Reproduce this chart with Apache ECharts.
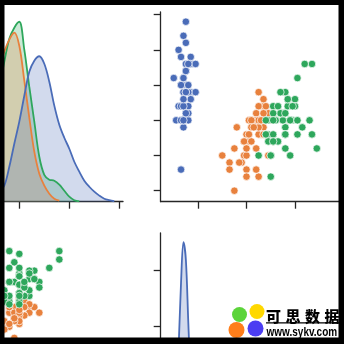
<!DOCTYPE html>
<html><head><meta charset="utf-8">
<script src="https://cdn.jsdelivr.net/npm/echarts@6/dist/echarts.min.js"></script>
<style>html,body{margin:0;padding:0;background:#fff}#c{width:344px;height:344px}</style>
</head><body><div id="c"></div>
<script>
// ---- Iris data (sepal width, petal length) per species ----
var setosaSW = [3.5,3.0,3.2,3.1,3.6,3.9,3.4,3.4,2.9,3.1,3.7,3.4,3.0,3.0,4.0,4.4,3.9,3.5,3.8,3.8,3.4,3.7,3.6,3.3,3.4,3.0,3.4,3.5,3.4,3.2,3.1,3.4,4.1,4.2,3.1,3.2,3.5,3.6,3.0,3.4,3.5,2.3,3.2,3.5,3.8,3.0,3.8,3.2,3.7,3.3];
var setosaPL = [1.4,1.4,1.3,1.5,1.4,1.7,1.4,1.5,1.4,1.5,1.5,1.6,1.4,1.1,1.2,1.5,1.3,1.4,1.7,1.5,1.7,1.5,1.0,1.7,1.9,1.6,1.6,1.5,1.4,1.6,1.6,1.5,1.5,1.4,1.5,1.2,1.3,1.4,1.3,1.5,1.3,1.3,1.3,1.6,1.9,1.4,1.6,1.4,1.5,1.4];
var versicolorSW = [3.2,3.2,3.1,2.3,2.8,2.8,3.3,2.4,2.9,2.7,2.0,3.0,2.2,2.9,2.9,3.1,3.0,2.7,2.2,2.5,3.2,2.8,2.5,2.8,2.9,3.0,2.8,3.0,2.9,2.6,2.4,2.4,2.7,2.7,3.0,3.4,3.1,2.3,3.0,2.5,2.6,3.0,2.6,2.3,2.7,3.0,2.9,2.9,2.5,2.8];
var versicolorPL = [4.7,4.5,4.9,4.0,4.6,4.5,4.7,3.3,4.6,3.9,3.5,4.2,4.0,4.7,3.6,4.4,4.5,4.1,4.5,3.9,4.8,4.0,4.9,4.7,4.3,4.4,4.8,5.0,4.5,3.5,3.8,3.7,3.9,5.1,4.5,4.5,4.7,4.4,4.1,4.0,4.4,4.6,4.0,3.3,4.2,4.2,4.2,4.3,3.0,4.1];
var virginicaSW = [3.3,2.7,3.0,2.9,3.0,3.0,2.5,2.9,2.5,3.6,3.2,2.7,3.0,2.5,2.8,3.2,3.0,3.8,2.6,2.2,3.2,2.8,2.8,2.7,3.3,3.2,2.8,3.0,2.8,3.0,2.8,3.8,2.8,2.8,2.6,3.0,3.4,3.1,3.0,3.1,3.1,3.1,2.7,3.2,3.3,3.0,2.5,3.0,3.4,3.0];
var virginicaPL = [6.0,5.1,5.9,5.6,5.8,6.6,4.5,6.3,5.8,6.1,5.1,5.3,5.5,5.0,5.1,5.3,5.5,6.7,6.9,5.0,5.7,4.9,6.7,4.9,5.7,6.0,4.8,4.9,5.6,5.8,6.1,6.4,5.6,5.1,5.6,6.1,5.6,5.5,4.8,5.4,5.6,5.1,5.1,5.9,5.7,5.2,5.0,5.2,5.4,5.1];

// ---- KDE curves (sepal width diagonal) ----
var kdeSetosaX = [1.9,2.0,2.1,2.2,2.3,2.4,2.5,2.6,2.7,2.8,2.9,3.0,3.1,3.2,3.3,3.4,3.5,3.6,3.7,3.8,3.9,4.0,4.1,4.2,4.3,4.4,4.5,4.6,4.7,4.8,4.9];
var kdeSetosaY = [0.001,0.003,0.010,0.020,0.027,0.034,0.041,0.068,0.108,0.236,0.392,0.541,0.716,0.878,0.953,0.983,0.932,0.811,0.649,0.520,0.432,0.358,0.270,0.203,0.142,0.101,0.068,0.041,0.020,0.010,0.003];
var kdeVersicolorX = [1.7,1.8,1.9,2.0,2.1,2.2,2.3,2.4,2.5,2.6,2.7,2.8,2.9,3.0,3.1,3.2,3.3,3.4,3.5,3.6,3.7,3.8];
var kdeVersicolorY = [0.007,0.020,0.054,0.122,0.203,0.338,0.473,0.608,0.777,0.912,1.014,1.095,1.142,1.054,0.818,0.568,0.338,0.189,0.108,0.054,0.020,0.007];
var kdeVirginicaX = [1.8,1.9,2.0,2.1,2.2,2.3,2.4,2.5,2.6,2.7,2.8,2.9,3.0,3.1,3.2,3.3,3.4,3.5,3.6,3.7,3.8,3.9,4.0,4.1,4.2];
var kdeVirginicaY = [0.003,0.014,0.034,0.081,0.169,0.270,0.419,0.608,0.777,0.946,1.101,1.176,1.216,1.027,0.777,0.541,0.304,0.182,0.149,0.142,0.115,0.074,0.034,0.010,0.002];
// ---- KDE curve (petal length diagonal, setosa, the only visible one) ----
var kdePlSetosaX = [0.8,0.9,1.0,1.1,1.2,1.3,1.4,1.5,1.6,1.7,1.8,1.9,2.0,2.1];
var kdePlSetosaY = [0.002,0.013,0.088,0.35,0.94,1.75,2.26,2.04,1.26,0.54,0.16,0.04,0.006,0.001];

// ---- tick values ----
var sepalWidthTicksX = [2,3,4,5];
var sepalWidthTicksY = [2.0,2.5,3.0,3.5,4.0,4.5];
var petalLengthTicks = [2,4,6,8];
var petalLengthTicksY = [2,4,6];

var speciesNames = ['setosa','versicolor','virginica'];
var colors = ['#4a6cb8','#e8813d','#2ea75c'];

function zip(a,b){ return a.map(function(v,i){ return [v,b[i]]; }); }

var axisCol = '#262626';
function ax(extra){
  var o = {
    type:'value', splitLine:{show:false}, axisLabel:{show:false},
    axisLine:{show:true, onZero:false, lineStyle:{color:axisCol, width:1.3}},
    axisTick:{show:true, length:7, lineStyle:{color:axisCol, width:1.3}}
  };
  for (var k in extra) o[k] = extra[k];
  return o;
}
function ticks(vals){ return {show:true, length:7, customValues:vals, lineStyle:{color:axisCol, width:1.3}}; }

var swScatter = [setosaSW, versicolorSW, virginicaSW];
var plScatter = [setosaPL, versicolorPL, virginicaPL];
var kdeX = [kdeSetosaX, kdeVersicolorX, kdeVirginicaX];
var kdeY = [kdeSetosaY, kdeVersicolorY, kdeVirginicaY];

var series = [];
[2,1,0].forEach(function(i){
  series.push({type:'line', name:speciesNames[i], xAxisIndex:0, yAxisIndex:0,
    data:zip(kdeX[i], kdeY[i]), smooth:0.35, symbol:'none',
    lineStyle:{color:colors[i], width:1.8}, itemStyle:{color:colors[i]},
    areaStyle:{color:colors[i], opacity:0.25}});
});
[0,1,2].forEach(function(i){
  series.push({type:'scatter', name:speciesNames[i], xAxisIndex:1, yAxisIndex:1,
    data:zip(plScatter[i], swScatter[i]), symbolSize:7.5,
    itemStyle:{color:colors[i], borderColor:'#fff', borderWidth:0.7, opacity:1}});
});
[0,1,2].forEach(function(i){
  series.push({type:'scatter', name:speciesNames[i], xAxisIndex:2, yAxisIndex:2,
    data:zip(swScatter[i], plScatter[i]), symbolSize:7.5,
    itemStyle:{color:colors[i], borderColor:'#fff', borderWidth:0.7, opacity:1}});
});
series.push({type:'line', name:'setosa', xAxisIndex:3, yAxisIndex:4,
  data:zip(kdePlSetosaX, kdePlSetosaY), smooth:0.35, symbol:'none',
  lineStyle:{color:colors[0], width:1.8}, itemStyle:{color:colors[0]},
  areaStyle:{color:colors[0], opacity:0.25}});

var wmChars = ['可','思','数','据'];
var graphics = [
  {type:'circle', shape:{cx:239.5, cy:314.5, r:7.5}, style:{fill:'#5cd43a'}, z:90},
  {type:'circle', shape:{cx:257, cy:311.5, r:7.5}, style:{fill:'#ffd800'}, z:90},
  {type:'circle', shape:{cx:236.5, cy:330, r:8}, style:{fill:'#ff7e1b'}, z:90},
  {type:'circle', shape:{cx:255.5, cy:328.5, r:8}, style:{fill:'#4b3df2'}, z:90},
  {type:'rect', shape:{x:266, y:322.3, width:74, height:1.3}, style:{fill:'#000'}, z:90},
  {type:'text', x:266.5, y:325.5, scaleX:0.77, style:{text:'www.sykv.com', fill:'#000', fontSize:13, fontWeight:'bold', fontFamily:'Liberation Sans', textVerticalAlign:'top'}, z:90}
];
wmChars.forEach(function(ch, i){
  graphics.push({type:'text', x:266 + i*19.5, y:308.5, style:{text:ch, fill:'#000', fontSize:15, fontWeight:900, fontFamily:'Noto Sans CJK SC', textVerticalAlign:'top'}, z:90});
});
graphics.push({type:'rect', shape:{x:0, y:0, width:344, height:5}, style:{fill:'#000'}, z:100});
graphics.push({type:'rect', shape:{x:0, y:0, width:4.5, height:344}, style:{fill:'#000'}, z:100});
graphics.push({type:'rect', shape:{x:338.5, y:0, width:6, height:344}, style:{fill:'#000'}, z:100});
graphics.push({type:'rect', shape:{x:0, y:337.5, width:344, height:7}, style:{fill:'#000'}, z:100});

var chart = echarts.init(document.getElementById('c'), null, {renderer:'canvas'});
chart.setOption({
  backgroundColor:'#fff',
  animation:false,
  grid:[
    {left:-65.7, top:12, width:188.7, height:189.7, containLabel:false, outerBoundsMode:'none'},
    {left:160.7, top:12, width:194.9, height:189.7, containLabel:false, outerBoundsMode:'none'},
    {left:-65.7, top:233, width:188.7, height:190, containLabel:false, outerBoundsMode:'none'},
    {left:160.7, top:233, width:194.9, height:190, containLabel:false, outerBoundsMode:'none'}
  ],
  xAxis:[
    ax({gridIndex:0, min:1.3, max:5.074, axisTick:ticks(sepalWidthTicksX)}),
    ax({gridIndex:1, min:0.462, max:8.499, axisTick:ticks(petalLengthTicks)}),
    ax({gridIndex:2, min:1.3, max:5.074, axisTick:ticks(sepalWidthTicksX)}),
    ax({gridIndex:3, min:0.462, max:8.499, axisTick:ticks(petalLengthTicks)})
  ],
  yAxis:[
    ax({gridIndex:0, min:0, max:1.282, show:false}),
    ax({gridIndex:1, min:1.844, max:4.538, axisTick:ticks(sepalWidthTicksY)}),
    ax({gridIndex:2, min:0.561, max:7.346, axisTick:ticks(petalLengthTicksY)}),
    ax({gridIndex:3, min:0.561, max:7.346, axisTick:ticks(petalLengthTicksY)}),
    ax({gridIndex:3, min:0, max:2.375, show:false})
  ],
  series:series,
  graphic:{elements:graphics}
});
</script></body></html>
